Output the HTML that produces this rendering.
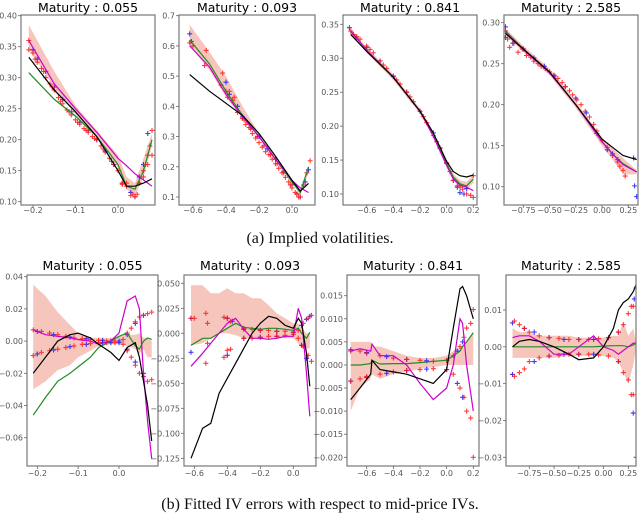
<!DOCTYPE html>
<html><head><meta charset="utf-8">
<style>
body{margin:0;background:#fff;width:640px;height:513px;overflow:hidden}
svg text{font-family:"DejaVu Sans","Liberation Sans",sans-serif}
.cap{font-family:"Liberation Serif",serif;font-size:16px;fill:#111}
</style></head>
<body>
<svg id="fig" width="640" height="513" viewBox="0 0 640 513" xmlns="http://www.w3.org/2000/svg">
<text class="cap" x="320" y="243" text-anchor="middle">(a) Implied volatilities.</text>
<text class="cap" x="320" y="509" text-anchor="middle">(b) Fitted IV errors with respect to mid-price IVs.</text>
</svg>
<script>
// ===== Top row: implied volatilities =====
const a1_x=[-0.21,-0.15,-0.1,-0.05,0,0.02,0.04,0.06,0.08];
const a1_black=[0.333,0.28,0.245,0.205,0.15,0.125,0.125,0.13,0.137];
const a1_green=[0.308,0.265,0.238,0.205,0.16,0.125,0.12,0.15,0.20];
const a1_magenta=[0.36,0.29,0.25,0.212,0.17,0.158,0.145,0.135,0.125];
const a1_bandHi=[0.385,0.31,0.255,0.215,0.175,0.14,0.13,0.17,0.21];
const a1_bandLo=[0.345,0.285,0.24,0.205,0.155,0.12,0.11,0.14,0.19];
const a1_redX=[-0.21,-0.21,-0.2,-0.19,-0.18,-0.17,-0.16,-0.15,-0.14,-0.13,-0.12,-0.11,-0.1,-0.09,-0.08,-0.07,-0.06,-0.05,-0.04,-0.03,-0.02,-0.01,0.0,0.01,0.02,0.03,0.04,0.05,0.06,0.07,0.08,0.05,0.06,0.07,0.08,0.02,0.01,-0.195,-0.175,-0.155,-0.135,-0.115,-0.095,-0.075,-0.055,-0.035,-0.015,0.035,0.045,0.065,0.075];
const a1_redY=[0.36,0.345,0.34,0.325,0.315,0.3,0.29,0.28,0.268,0.258,0.248,0.24,0.232,0.225,0.218,0.212,0.205,0.2,0.19,0.18,0.17,0.16,0.15,0.13,0.125,0.11,0.108,0.13,0.15,0.175,0.215,0.13,0.14,0.16,0.175,0.13,0.128,0.33,0.31,0.285,0.262,0.245,0.228,0.215,0.202,0.185,0.165,0.112,0.112,0.16,0.19];
const a1_blueX=[-0.2,-0.19,-0.17,-0.15,-0.13,-0.11,-0.09,-0.07,-0.05,-0.03,-0.01,0.01,0.03,0.04,0.05,0.06,0.07];
const a1_blueY=[0.345,0.33,0.31,0.285,0.265,0.245,0.228,0.215,0.2,0.182,0.16,0.13,0.115,0.108,0.14,0.16,0.21];

const a2_x=[-0.62,-0.5,-0.4,-0.3,-0.2,-0.1,0,0.05,0.1];
const a2_black=[0.505,0.45,0.41,0.37,0.31,0.235,0.155,0.12,0.145];
const a2_green=[0.62,0.54,0.45,0.37,0.3,0.225,0.15,0.115,0.2];
const a2_magenta=[0.6,0.53,0.44,0.365,0.3,0.225,0.155,0.13,0.115];
const a2_bandHi=[0.67,0.58,0.5,0.4,0.31,0.235,0.16,0.12,0.2];
const a2_bandLo=[0.6,0.52,0.43,0.36,0.295,0.22,0.15,0.105,0.18];
const a2_redX=[-0.62,-0.6,-0.53,-0.52,-0.43,-0.42,-0.4,-0.39,-0.38,-0.36,-0.35,-0.33,-0.3,-0.28,-0.26,-0.24,-0.22,-0.2,-0.18,-0.16,-0.14,-0.12,-0.1,-0.08,-0.06,-0.04,-0.02,0,0.02,0.04,0.05,0.07,0.09,0.11,-0.29,-0.25,-0.21,-0.17,-0.13,-0.09,-0.05,-0.01,0.03];
const a2_redY=[0.61,0.6,0.535,0.585,0.47,0.51,0.45,0.43,0.45,0.42,0.43,0.38,0.36,0.34,0.33,0.31,0.295,0.28,0.265,0.25,0.24,0.225,0.21,0.195,0.18,0.165,0.15,0.13,0.115,0.1,0.1,0.14,0.18,0.22,0.355,0.325,0.3,0.27,0.24,0.21,0.18,0.14,0.11];
const a2_blueX=[-0.62,-0.61,-0.4,-0.38,-0.33,-0.3,-0.25,-0.2,-0.15,-0.1,-0.05,0,0.03,0.05,0.08,0.1];
const a2_blueY=[0.64,0.615,0.48,0.44,0.4,0.365,0.33,0.3,0.26,0.225,0.185,0.14,0.11,0.1,0.15,0.19];

const a3_x=[-0.72,-0.6,-0.4,-0.2,-0.1,0,0.05,0.1,0.15,0.2];
const a3_black=[0.335,0.31,0.272,0.222,0.19,0.148,0.133,0.127,0.125,0.128];
const a3_green=[0.34,0.312,0.272,0.222,0.188,0.145,0.125,0.115,0.112,0.122];
const a3_magenta=[0.34,0.312,0.272,0.222,0.185,0.142,0.122,0.113,0.11,0.105];
const a3_bandHi=[0.344,0.316,0.276,0.226,0.192,0.149,0.13,0.12,0.118,0.128];
const a3_bandLo=[0.336,0.308,0.268,0.218,0.184,0.141,0.12,0.11,0.107,0.116];
const a3_redX=[-0.72,-0.7,-0.65,-0.6,-0.55,-0.5,-0.45,-0.4,-0.35,-0.3,-0.25,-0.2,-0.15,-0.1,-0.05,0,0.05,0.08,0.1,0.12,0.15,0.18,0.2,0.2,-0.675,-0.575,-0.475,-0.375,-0.275,-0.175,-0.075,0.025];
const a3_redY=[0.34,0.335,0.328,0.318,0.308,0.296,0.285,0.274,0.262,0.25,0.236,0.222,0.205,0.186,0.167,0.146,0.12,0.112,0.11,0.107,0.1,0.098,0.095,0.127,0.332,0.313,0.29,0.268,0.243,0.214,0.177,0.133];
const a3_blueX=[-0.73,-0.68,-0.6,-0.5,-0.4,-0.3,-0.2,-0.1,-0.05,0,0.05,0.08,0.1,0.13,0.15];
const a3_blueY=[0.345,0.33,0.316,0.296,0.273,0.25,0.222,0.19,0.168,0.145,0.12,0.11,0.102,0.1,0.108];

const a4_x=[-0.92,-0.75,-0.5,-0.25,0,0.1,0.2,0.33];
const a4_black=[0.287,0.268,0.24,0.2,0.158,0.148,0.138,0.133];
const a4_green=[0.29,0.268,0.24,0.2,0.155,0.14,0.128,0.118];
const a4_magenta=[0.288,0.267,0.239,0.2,0.155,0.14,0.127,0.118];
const a4_bandHi=[0.293,0.272,0.244,0.204,0.16,0.147,0.135,0.12];
const a4_bandLo=[0.285,0.264,0.236,0.196,0.15,0.133,0.115,0.115];
const a4_redX=[-0.92,-0.9,-0.88,-0.8,-0.72,-0.65,-0.58,-0.5,-0.42,-0.35,-0.28,-0.2,-0.12,-0.05,0,0.05,0.1,0.15,0.17,0.2,0.22,-0.84,-0.76,-0.68,-0.61,-0.54,-0.46,-0.38,-0.31,-0.24,-0.16,-0.08];
const a4_redY=[0.29,0.28,0.27,0.264,0.26,0.253,0.247,0.24,0.232,0.222,0.212,0.2,0.185,0.168,0.156,0.148,0.138,0.13,0.125,0.12,0.113,0.275,0.268,0.258,0.25,0.244,0.236,0.227,0.217,0.206,0.192,0.176];
const a4_blueX=[-0.92,-0.92,-0.85,-0.75,-0.65,-0.55,-0.45,-0.35,-0.25,-0.15,-0.05,0.05,0.1,0.15,0.3,0.31,0.33];
const a4_blueY=[0.295,0.282,0.275,0.268,0.257,0.247,0.235,0.222,0.208,0.19,0.165,0.145,0.14,0.133,0.135,0.101,0.088];

// ===== Bottom row: fitted IV errors =====
const b1_x=[-0.21,-0.18,-0.15,-0.12,-0.1,-0.07,-0.05,-0.02,0,0.02,0.04,0.05,0.06,0.07,0.08];
const b1_black=[-0.02,-0.01,0.0,0.004,0.005,0.002,-0.002,-0.007,-0.012,-0.004,-0.001,-0.01,-0.025,-0.04,-0.062];
const b1_green=[-0.046,-0.035,-0.025,-0.02,-0.016,-0.01,-0.004,0.0,0.003,0.005,-0.003,-0.005,0.0,0.002,0.001];
const b1_magenta=[0.007,0.004,0.003,0.002,0.001,0.0,-0.002,0.0,0.005,0.025,0.028,0.02,-0.02,-0.05,-0.073];
const b1_bandHi=[0.035,0.028,0.018,0.01,0.005,0.002,0.002,0.002,0.003,0.004,0.004,0.005,0.002,0.002,0.0];
const b1_bandLo=[-0.03,-0.025,-0.018,-0.015,-0.01,-0.006,-0.003,-0.002,-0.002,-0.003,-0.005,-0.008,-0.005,-0.01,-0.01];
const b1_redX=[-0.21,-0.19,-0.17,-0.15,-0.13,-0.11,-0.09,-0.07,-0.05,-0.03,-0.01,0.01,0.02,0.03,0.04,0.05,0.06,0.07,0.08,-0.21,-0.19,-0.17,-0.15,-0.13,-0.11,-0.09,-0.07,-0.05,-0.03,-0.01,0.01,0.02,0.03,0.04,0.05,0.06,0.07,0.08];
const b1_redY=[0.007,0.006,0.005,0.004,0.003,0.002,0.0015,0.001,0.0005,0.0,0.0,0.001,0.005,0.008,0.012,0.015,0.016,0.017,0.018,-0.009,-0.007,-0.006,-0.005,-0.004,-0.003,-0.002,-0.0015,-0.001,-0.001,-0.001,-0.002,-0.006,-0.01,-0.015,-0.02,-0.022,-0.025,-0.024];
const b1_blueX=[-0.2,-0.16,-0.12,-0.08,-0.04,-0.02,0.0,0.02,0.04,0.06,-0.2,-0.16,-0.12,-0.08,-0.04,-0.02,0.0,0.02,0.04,0.06];
const b1_blueY=[0.006,0.004,0.0025,0.0015,0.0005,0.0,0.0,0.004,0.011,0.016,-0.008,-0.0055,-0.0035,-0.002,-0.001,-0.001,-0.001,-0.005,-0.013,-0.02];

const b2_x=[-0.62,-0.55,-0.5,-0.45,-0.4,-0.35,-0.3,-0.25,-0.2,-0.15,-0.1,-0.05,0,0.03,0.05,0.08,0.1];
const b2_black=[-0.125,-0.095,-0.09,-0.06,-0.045,-0.03,-0.015,0.0,0.01,0.017,0.015,0.008,0.005,0.015,0.01,-0.02,-0.053];
const b2_green=[-0.012,-0.005,-0.005,0.0,0.005,0.01,0.006,0.005,0.004,0.005,0.005,0.004,0.003,0.005,0.0,-0.005,0.001];
const b2_magenta=[-0.033,-0.02,-0.01,0.0,0.01,0.015,0.004,-0.005,-0.005,-0.006,-0.005,-0.003,-0.003,0.025,0.015,-0.04,-0.083];
const b2_bandHi=[0.048,0.048,0.04,0.04,0.045,0.04,0.04,0.035,0.035,0.028,0.02,0.015,0.01,0.01,0.005,0.0,0.0];
const b2_bandLo=[-0.012,-0.01,-0.005,0.0,0.0,-0.002,-0.005,-0.005,-0.005,-0.005,-0.005,-0.005,-0.005,-0.01,-0.015,-0.015,-0.015];
const b2_redX=[-0.62,-0.6,-0.53,-0.52,-0.42,-0.4,-0.38,-0.3,-0.25,-0.2,-0.15,-0.1,-0.05,0,0.03,0.06,0.09,0.11,-0.53,-0.52,-0.42,-0.4,-0.38,-0.3,-0.25,-0.2,-0.15,-0.1,-0.05,0,0.03,0.06,0.09,0.11];
const b2_redY=[0.015,0.015,0.02,0.01,0.016,0.015,0.012,0.005,0.004,0.003,0.003,0.002,0.002,0.001,0.003,0.01,0.015,0.018,-0.03,-0.01,-0.024,-0.017,-0.016,-0.005,-0.005,-0.004,-0.003,-0.003,-0.002,-0.001,-0.005,-0.013,-0.022,-0.028];
const b2_blueX=[-0.62,-0.62,-0.4,-0.4,-0.37,-0.3,-0.2,-0.1,0,0.05,0.08,0.1,-0.3,-0.2,-0.1,0.05,0.08];
const b2_blueY=[0.015,-0.019,0.015,-0.022,0.012,0.004,0.003,0.002,0.001,0.008,0.014,0.017,-0.005,-0.004,-0.003,-0.012,-0.025];

const b3_x=[-0.72,-0.65,-0.57,-0.56,-0.5,-0.4,-0.3,-0.2,-0.1,0,0.05,0.1,0.12,0.15,0.2];
const b3_black=[-0.0075,-0.005,-0.002,0.001,-0.001,-0.0015,-0.002,-0.003,-0.004,-0.001,0.008,0.0165,0.017,0.015,0.01];
const b3_green=[0.0,0.0,0.0003,0.001,0.0002,0.0003,0.0003,0.0005,0.0008,0.001,0.002,0.003,0.004,0.005,0.007];
const b3_magenta=[0.003,0.0035,0.003,0.0045,0.002,0.002,0.0,-0.004,-0.0075,-0.005,0.0,0.01,0.009,0.0,-0.01];
const b3_bandHi=[0.005,0.005,0.005,0.004,0.004,0.003,0.002,0.0015,0.0015,0.002,0.003,0.004,0.004,0.005,0.007];
const b3_bandLo=[-0.01,-0.005,-0.003,-0.002,-0.003,-0.002,-0.0015,-0.0008,-0.0005,0.0,0.0,0.0,0.0,0.0,0.0];
const b3_redX=[-0.72,-0.65,-0.6,-0.5,-0.4,-0.3,-0.2,-0.1,0,0.05,0.1,0.13,0.15,0.18,0.2,-0.72,-0.65,-0.6,-0.5,-0.4,-0.3,-0.2,-0.1,0,0.05,0.1,0.13,0.15,0.18,0.2];
const b3_redY=[0.003,0.003,0.0025,0.002,0.0015,0.0012,0.001,0.0008,0.001,0.002,0.004,0.006,0.008,0.009,0.012,-0.0035,-0.003,-0.0025,-0.002,-0.0015,-0.0012,-0.001,-0.0008,-0.001,-0.002,-0.005,-0.007,-0.01,-0.0115,-0.02];
const b3_blueX=[-0.72,-0.6,-0.45,-0.3,-0.15,0.0,0.08,0.12,-0.72,-0.6,-0.45,-0.3,-0.15,0.0,0.08,0.12];
const b3_blueY=[0.0033,0.0027,0.0018,0.0012,0.0009,0.001,0.003,0.005,-0.0035,-0.0027,-0.0018,-0.0012,-0.0009,-0.001,-0.004,-0.007];

const b4_x=[-0.92,-0.85,-0.75,-0.65,-0.5,-0.35,-0.25,-0.1,0,0.1,0.15,0.2,0.25,0.3,0.33];
const b4_black=[0.0,0.0015,0.002,0.0015,0.0,-0.002,-0.0035,-0.003,0.0,0.005,0.01,0.012,0.013,0.015,0.017];
const b4_green=[0,0,0,0,0,0,0,0,0.0002,0.0003,0.0003,0.0003,0.0,0.0005,0.001];
const b4_magenta=[0.0025,0.003,0.003,0.0015,-0.002,-0.002,0.0,0.003,0.0,-0.001,-0.002,-0.001,0.0,0.001,0.001];
const b4_bandHi=[0.005,0.004,0.004,0.003,0.003,0.003,0.0025,0.0025,0.0025,0.003,0.003,0.007,0.003,0.005,0.001];
const b4_bandLo=[-0.003,-0.003,-0.003,-0.003,-0.003,-0.0025,-0.0025,-0.0025,-0.0025,-0.003,-0.004,-0.007,-0.01,-0.005,0.0];
const b4_redX=[-0.9,-0.85,-0.8,-0.75,-0.65,-0.55,-0.45,-0.35,-0.25,-0.15,-0.05,0.05,0.15,0.2,0.25,0.28,0.3,-0.9,-0.85,-0.8,-0.75,-0.65,-0.55,-0.45,-0.35,-0.25,-0.15,-0.05,0.05,0.15,0.2,0.25,0.28,0.3];
const b4_redY=[0.007,0.006,0.005,0.004,0.003,0.0025,0.0023,0.002,0.002,0.002,0.0022,0.0025,0.004,0.006,0.009,0.011,0.011,-0.008,-0.007,-0.006,-0.004,-0.003,-0.0025,-0.0023,-0.002,-0.002,-0.002,-0.0022,-0.0025,-0.004,-0.007,-0.009,-0.013,-0.013];
const b4_blueX=[-0.92,-0.92,-0.8,-0.7,-0.55,-0.4,-0.25,-0.1,0.05,0.15,-0.7,-0.55,-0.4,-0.25,-0.1,0.15,0.3,0.33,0.33,0.31];
const b4_blueY=[0.0065,-0.0075,0.005,0.004,0.0025,0.002,0.002,0.002,0.0025,0.004,-0.004,-0.0025,-0.002,-0.002,-0.002,-0.004,-0.018,-0.03,0.016,0.013];

// tick values
const a1_yt=[0.10,0.15,0.20,0.25,0.30,0.35,0.40], a1_xt=[-0.2,-0.1,0.0];
const a2_yt=[0.1,0.2,0.3,0.4,0.5,0.6,0.7], a2_xt=[-0.6,-0.4,-0.2,0.0];
const a3_yt=[0.10,0.15,0.20,0.25,0.30,0.35], a3_xt=[-0.6,-0.4,-0.2,0.0,0.2];
const a4_yt=[0.10,0.15,0.20,0.25,0.30], a4_xt=[-0.75,-0.50,-0.25,0.00,0.25];
const b1_yt=[0.04,0.02,0.00,-0.02,-0.04,-0.06], b1_xt=[-0.2,-0.1,0.0];
const b2_yt=[0.050,0.025,0.000,-0.025,-0.050,-0.075,-0.100,-0.125], b2_xt=[-0.6,-0.4,-0.2,0.0];
const b3_yt=[0.015,0.010,0.005,0.000,-0.005,-0.010,-0.015,-0.020], b3_xt=[-0.6,-0.4,-0.2,0.0,0.2];
const b4_yt=[0.01,0.00,-0.01,-0.02,-0.03], b4_xt=[-0.75,-0.50,-0.25,0.00,0.25];
const titles=["0.055","0.093","0.841","2.585"];

const svg=document.getElementById('fig');
const NS='http://www.w3.org/2000/svg';
function mk(tag,attrs,parent){const e=document.createElementNS(NS,tag);for(const k in attrs)e.setAttribute(k,attrs[k]);(parent||svg).appendChild(e);return e;}
function fmt(v,d){const s=Math.abs(v).toFixed(d);return (v<0?'\u2212':'')+s;}

const panels=[
 {id:'a1',t:0,box:[21,15,155,205],xc:[-0.2,33,0.0,118],yc:[0.40,15.7,0.10,201.7],xd:1,yd:2,d:[a1_x,a1_black,a1_green,a1_magenta,a1_bandHi,a1_bandLo,a1_redX,a1_redY,a1_blueX,a1_blueY,a1_yt,a1_xt],tx:8,xl:213},
 {id:'a2',t:1,box:[179,15,315,205],xc:[-0.6,193,0.0,292],yc:[0.7,15.7,0.1,197],xd:1,yd:1,d:[a2_x,a2_black,a2_green,a2_magenta,a2_bandHi,a2_bandLo,a2_redX,a2_redY,a2_blueX,a2_blueY,a2_yt,a2_xt],tx:8,xl:213},
 {id:'a3',t:2,box:[343,15,477,205],xc:[-0.6,366.7,0.2,473.3],yc:[0.35,24.3,0.10,194],xd:1,yd:2,d:[a3_x,a3_black,a3_green,a3_magenta,a3_bandHi,a3_bandLo,a3_redX,a3_redY,a3_blueX,a3_blueY,a3_yt,a3_xt],tx:8,xl:213},
 {id:'a4',t:3,box:[504,15,638,205],xc:[-0.75,523.3,0.25,628.3],yc:[0.30,22.7,0.10,186.7],xd:2,yd:2,d:[a4_x,a4_black,a4_green,a4_magenta,a4_bandHi,a4_bandLo,a4_redX,a4_redY,a4_blueX,a4_blueY,a4_yt,a4_xt],tx:8,xl:213},
 {id:'b1',t:0,box:[27,275,158,466],xc:[-0.2,37.3,0.0,119],yc:[0.04,276.7,-0.06,437.7],xd:1,yd:2,d:[b1_x,b1_black,b1_green,b1_magenta,b1_bandHi,b1_bandLo,b1_redX,b1_redY,b1_blueX,b1_blueY,b1_yt,b1_xt],tx:266,xl:476},
 {id:'b2',t:1,box:[184,275,316,466],xc:[-0.6,194.3,0.0,293.3],yc:[0.05,283.3,-0.125,458.3],xd:1,yd:3,d:[b2_x,b2_black,b2_green,b2_magenta,b2_bandHi,b2_bandLo,b2_redX,b2_redY,b2_blueX,b2_blueY,b2_yt,b2_xt],tx:266,xl:476},
 {id:'b3',t:2,box:[347,275,479,466],xc:[-0.6,366.7,0.2,473.3],yc:[0.015,295.7,-0.02,457.3],xd:1,yd:3,d:[b3_x,b3_black,b3_green,b3_magenta,b3_bandHi,b3_bandLo,b3_redX,b3_redY,b3_blueX,b3_blueY,b3_yt,b3_xt],tx:266,xl:476},
 {id:'b4',t:3,box:[506,275,636,466],xc:[-0.75,529.3,0.25,628.3],yc:[0.01,310,-0.03,457.3],xd:2,yd:2,d:[b4_x,b4_black,b4_green,b4_magenta,b4_bandHi,b4_bandLo,b4_redX,b4_redY,b4_blueX,b4_blueY,b4_yt,b4_xt],tx:266,xl:476}
];

panels.forEach(p=>{
 const [L,T,R,B]=p.box;
 const sx=v=>p.xc[1]+(v-p.xc[0])*(p.xc[3]-p.xc[1])/(p.xc[2]-p.xc[0]);
 const sy=v=>p.yc[1]+(v-p.yc[0])*(p.yc[3]-p.yc[1])/(p.yc[2]-p.yc[0]);
 const [X,blk,grn,mag,hi,lo,rx,ry,bx,by,yt,xt]=p.d;
 const g=mk('g',{});
 
 
 const cid='clip-'+p.id;
 const cp=mk('clipPath',{id:cid},g);mk('rect',{x:L,y:T,width:R-L,height:B-T},cp);
 const pl=mk('g',{'clip-path':'url(#'+cid+')'},g);
 let d='';X.forEach((x,i)=>{d+=(i?'L':'M')+sx(x).toFixed(1)+','+sy(hi[i]).toFixed(1);});
 for(let i=X.length-1;i>=0;i--)d+='L'+sx(X[i]).toFixed(1)+','+sy(lo[i]).toFixed(1);
 const band=mk('path',{d:d+'Z',fill:'#f0a090','fill-opacity':0.6,stroke:'none'},pl);
 
 
 function markers(xs,ys,col,name){
  const mg=mk('g',{stroke:col,'stroke-width':1.1,'stroke-opacity':0.85},pl);
  
  
  xs.forEach((x,i)=>{const cx=sx(x),cy=sy(ys[i]);
   mk('path',{d:`M${cx-2.5},${cy}H${cx+2.5}M${cx},${cy-2.5}V${cy+2.5}`},mg);});
 }
 markers(bx,by,'#1a1aff','blue-markers');
 markers(rx,ry,'#ff1a1a','red-markers');
 function line(ys,col,name){
  let dd='';X.forEach((x,i)=>{dd+=(i?'L':'M')+sx(x).toFixed(1)+','+sy(ys[i]).toFixed(1);});
  const l=mk('path',{d:dd,fill:'none',stroke:col,'stroke-width':1.2},pl);
  
  
 }
 line(grn,'#228b22','green-line');
 line(mag,'#cc00cc','magenta-line');
 line(blk,'#000','black-line');
 const fr=mk('rect',{x:L,y:T,width:R-L,height:B-T,fill:'none',stroke:'#777','stroke-width':1.2},g);
 
 
 yt.forEach(v=>{const y=sy(v);
  mk('line',{x1:L-3,x2:L,y1:y,y2:y,stroke:'#666','stroke-width':0.8},g);
  const t=mk('text',{x:L-4,y:y+3,'text-anchor':'end','font-size':8,fill:'#555'},g);
  t.textContent=fmt(v,p.yd);
  
  });
 xt.forEach(v=>{const x=sx(v);
  mk('line',{x1:x,x2:x,y1:B,y2:B+3,stroke:'#666','stroke-width':0.8},g);
  const t=mk('text',{x:x,y:p.xl,'text-anchor':'middle','font-size':8,fill:'#555'},g);
  t.textContent=fmt(v,p.xd);
  
  });
 const tt=mk('text',{x:(L+R)/2,y:p.tx+4,'text-anchor':'middle','font-size':12.5,fill:'#000'},g);
 tt.textContent='Maturity : '+titles[p.t];
 
 
});
</script>
</body></html>
